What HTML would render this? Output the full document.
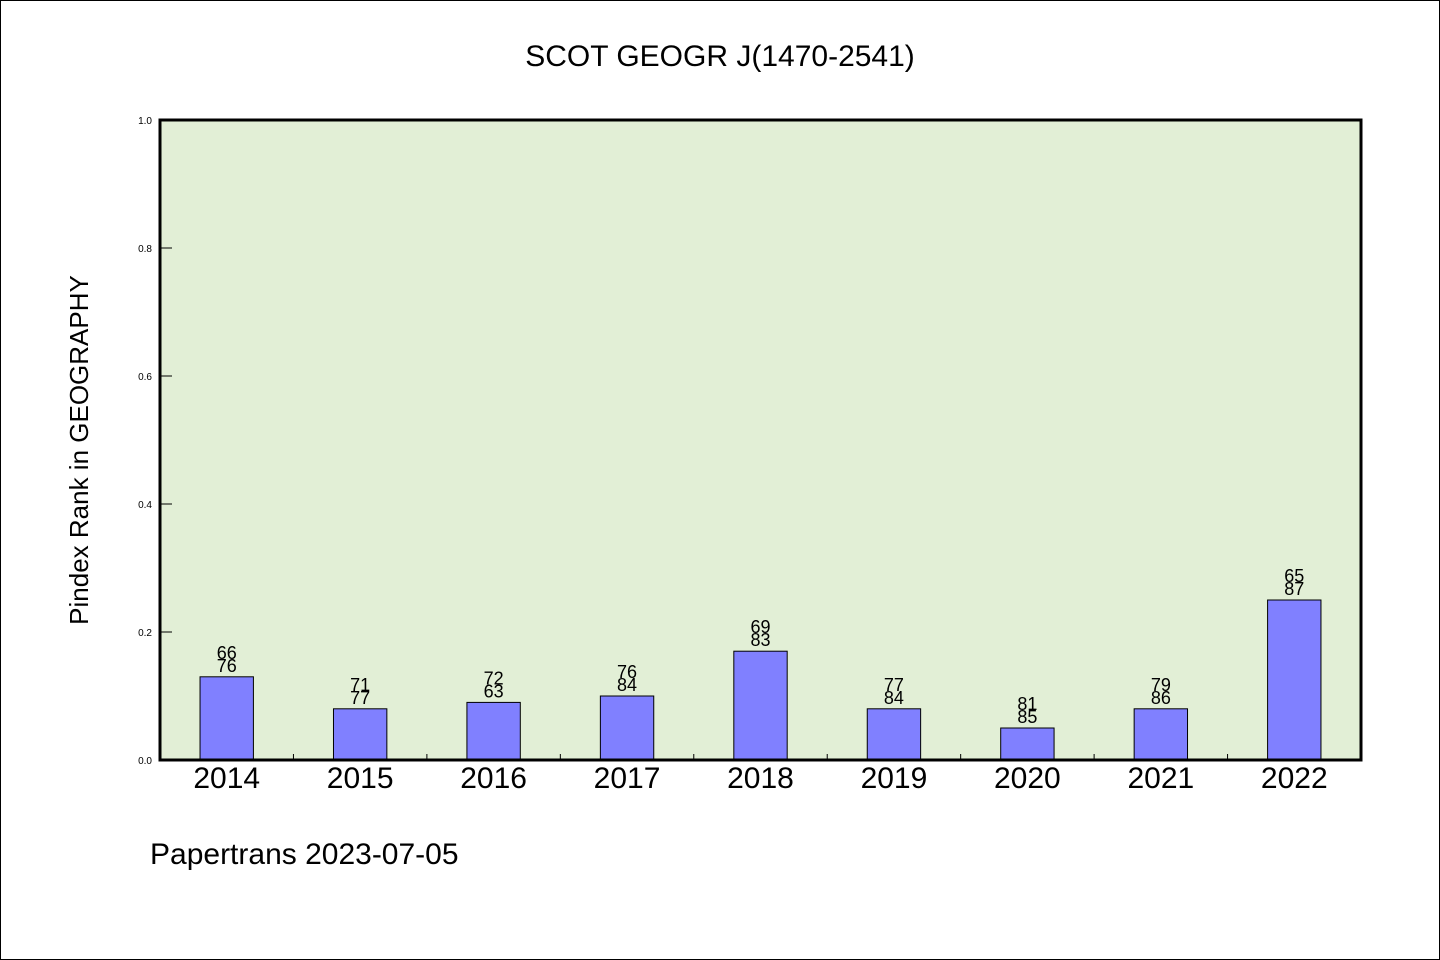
<!DOCTYPE html>
<html><head><meta charset="utf-8"><style>
html,body{margin:0;padding:0;background:#fff}
svg{display:block}
text{font-family:"WenQuanYi Zen Hei","Liberation Sans",sans-serif;fill:#000}
</style></head><body>
<svg id="chart" width="1440" height="960" viewBox="0 0 1440 960">
<rect x="0.5" y="0.5" width="1439" height="959" fill="#fff" stroke="#000"/>
<text x="720" y="66" font-size="30" text-anchor="middle">SCOT GEOGR J(1470-2541)</text>
<rect x="160" y="120" width="1201" height="640" fill="#e2efd6"/>
<g id="yticks"></g><g id="xticks"></g><g id="bars"></g><g id="labels"></g>
<rect x="160" y="120" width="1201" height="640" fill="none" stroke="#000" stroke-width="3"/>
<text transform="translate(88,450) rotate(-90)" font-size="26" text-anchor="middle">Pindex Rank in GEOGRAPHY</text>
<text x="150" y="864" font-size="30">Papertrans 2023-07-05</text>
</svg>
<script>
const categories=["2014","2015","2016","2017","2018","2019","2020","2021","2022"];
const values=[0.13,0.08,0.09,0.10,0.17,0.08,0.05,0.08,0.25];
const topLabels=["66","71","72","76","69","77","81","79","65"];
const bottomLabels=["76","77","63","84","83","84","85","86","87"];
const yTicks=[0,0.2,0.4,0.6,0.8,1.0];
const NS="http://www.w3.org/2000/svg";
const X0=160,W=1201,Y0=760,H=640;
const slot=W/categories.length;
const xC=i=>X0+(i+0.5)*slot;
const yS=v=>Y0-v*H;
function mk(tag,attrs,parent,txt){const e=document.createElementNS(NS,tag);for(const k in attrs)e.setAttribute(k,attrs[k]);if(txt!==undefined)e.textContent=txt;document.getElementById(parent).appendChild(e);return e;}
yTicks.forEach(t=>{
 const l=mk("line",{x1:X0,x2:X0+12,y1:yS(t),y2:yS(t),stroke:"#000","stroke-width":1},"yticks");
 
 
 const tx=mk("text",{x:X0-8,y:yS(t)+4,"font-size":10,"text-anchor":"end"},"yticks",t.toFixed(1));
 
 
});
for(let i=1;i<categories.length;i++){
 const l=mk("line",{x1:X0+i*slot,x2:X0+i*slot,y1:Y0,y2:Y0-6,stroke:"#000","stroke-width":1},"xticks");
 
 
}
const bw=slot*0.4;
categories.forEach((c,i)=>{
 const v=values[i];
 const r=mk("rect",{x:xC(i)-bw/2,y:yS(v),width:bw,height:v*H,fill:"#8080ff",stroke:"#000","stroke-width":1},"bars");
 
 
 const b=mk("text",{x:xC(i),y:yS(v)-5,"font-size":18,"text-anchor":"middle"},"labels",bottomLabels[i]);
 
 
 const t=mk("text",{x:xC(i),y:yS(v)-18,"font-size":18,"text-anchor":"middle"},"labels",topLabels[i]);
 
 
 const xl=mk("text",{x:xC(i),y:788,"font-size":30,"text-anchor":"middle"},"labels",c);
 
 
});
</script>
</body></html>
